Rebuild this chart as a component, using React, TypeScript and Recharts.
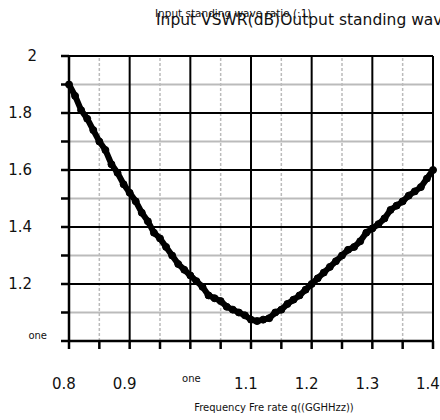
import React from "react";
import { LineChart, Line, XAxis, YAxis, ReferenceLine } from "recharts";

const freq = [
  0.8, 0.81, 0.82, 0.83, 0.84, 0.85, 0.86, 0.87, 0.88, 0.89, 0.9, 0.91, 0.92, 0.93, 0.94, 0.95,
  0.96, 0.97, 0.98, 0.99, 1.0, 1.01, 1.02, 1.03, 1.04, 1.05, 1.06, 1.07, 1.08, 1.09, 1.1, 1.11,
  1.12, 1.13, 1.14, 1.15, 1.16, 1.17, 1.18, 1.19, 1.2, 1.21, 1.22, 1.23, 1.24, 1.25, 1.26, 1.27,
  1.28, 1.29, 1.3, 1.31, 1.32, 1.33, 1.34, 1.35, 1.36, 1.37, 1.38, 1.39, 1.4,
];
const vswr = [
  1.9, 1.86, 1.81, 1.78, 1.74, 1.7, 1.67, 1.62, 1.59, 1.55, 1.52, 1.49, 1.45, 1.42, 1.38, 1.36,
  1.33, 1.3, 1.27, 1.25, 1.23, 1.21, 1.19, 1.16, 1.15, 1.14, 1.12, 1.11, 1.1, 1.09, 1.075, 1.07,
  1.075, 1.08, 1.1, 1.11, 1.13, 1.145, 1.16, 1.18, 1.2, 1.22, 1.24, 1.26, 1.28, 1.3, 1.32, 1.33,
  1.35, 1.38, 1.395, 1.41, 1.43, 1.46, 1.475, 1.49, 1.51, 1.525, 1.54, 1.57, 1.6,
];

const xTicks = [0.8, 0.85, 0.9, 0.95, 1.0, 1.05, 1.1, 1.15, 1.2, 1.25, 1.3, 1.35, 1.4];
const xLabels: Record<string, string> = {
  "0.8": "0.8", "0.9": "0.9", "1": "one", "1.1": "1.1", "1.2": "1.2", "1.3": "1.3", "1.4": "1.4",
};
const yTicks = [1.0, 1.1, 1.2, 1.3, 1.4, 1.5, 1.6, 1.7, 1.8, 1.9, 2.0];
const yLabels: Record<string, string> = {
  "1": "one", "1.2": "1.2", "1.4": "1.4", "1.6": "1.6", "1.8": "1.8", "2": "2",
};

// grid: black on the tenths, grey in between
const xMajor = [0.9, 1.0, 1.1, 1.2, 1.3, 1.4];
const xMinor = [0.85, 0.95, 1.05, 1.15, 1.25, 1.35];
const yMajor = [1.2, 1.4, 1.6, 1.8, 2.0];
const yMinor = [1.1, 1.3, 1.5, 1.7, 1.9];

const chartTitle = "Input VSWR(dB)Output standing wave ratio (:1)";
const chartSubTitle = "Input standing wave ratio (:1)";
const xTitle = "Frequency Fre rate q((GGHHzz))";

const data = freq.map((f, i) => ({ freq: f, vswr: vswr[i] }));

const FONT = "DejaVu Sans, sans-serif";

function XTick(props: any) {
  const { x, y, payload } = props;
  const label = xLabels[String(payload.value)];
  if (!label) return null;
  const small = label === "one";
  return (
    <text
      x={x}
      y={y}
      dx={small ? 1 : -5}
      dy={small ? 31 : 38}
      textAnchor="middle"
      fontSize={small ? 10 : 15}
      fontFamily={FONT}
      fill="#111"
    >
      {label}
    </text>
  );
}

function YTick(props: any) {
  const { x, y, payload } = props;
  const label = yLabels[String(payload.value)];
  if (!label) return null;
  const small = label === "one";
  const dx = small ? -12 : label === "2" ? -22 : -27;
  return (
    <text
      x={x}
      y={y}
      dx={dx}
      dy={small ? -2 : 5}
      textAnchor="end"
      fontSize={small ? 10 : 15}
      fontFamily={FONT}
      fill="#111"
    >
      {label}
    </text>
  );
}

export default function App() {
  return (
    <div style={{ position: "absolute", left: 0, top: 0, width: 440, height: 420, background: "#fff" }}>
      <LineChart
        width={440}
        height={420}
        data={data}
        margin={{ top: 56, right: 7, left: 0, bottom: 0 }}
      >
        <XAxis
          dataKey="freq"
          type="number"
          domain={[0.8, 1.4]}
          ticks={xTicks}
          tick={<XTick />}
          tickSize={8}
          height={79}
          stroke="#000"
          strokeWidth={2.5}
          interval={0}
        />
        <YAxis
          type="number"
          domain={[1, 2]}
          ticks={yTicks}
          tick={<YTick />}
          tickSize={8}
          width={69}
          stroke="#000"
          strokeWidth={2.5}
          interval={0}
        />
        {yMinor.map((v) => (
          <ReferenceLine key={"ym" + v} y={v} stroke="#bbb" strokeWidth={2} />
        ))}
        {xMinor.map((v) => (
          <ReferenceLine key={"xm" + v} x={v} stroke="#bbb" strokeWidth={1.5} strokeDasharray="3 2" />
        ))}
        {yMajor.map((v) => (
          <ReferenceLine key={"yM" + v} y={v} stroke="#000" strokeWidth={2} />
        ))}
        {xMajor.map((v) => (
          <ReferenceLine key={"xM" + v} x={v} stroke="#000" strokeWidth={2} />
        ))}
        <Line
          type="linear"
          dataKey="vswr"
          stroke="#000"
          strokeWidth={6}
          dot={{ r: 3.5, fill: "#000", stroke: "#000", strokeWidth: 1 }}
          isAnimationActive={false}
        />
        <text x={156} y={25} fontSize={15.5} fontFamily={FONT} fill="#111">
          {chartTitle}
        </text>
        <text x={155} y={17} fontSize={10.5} fontFamily={FONT} fill="#111">
          {chartSubTitle}
        </text>
        <text x={274} y={411} textAnchor="middle" fontSize={10} fontFamily={FONT} fill="#111">
          {xTitle}
        </text>
      </LineChart>
    </div>
  );
}
